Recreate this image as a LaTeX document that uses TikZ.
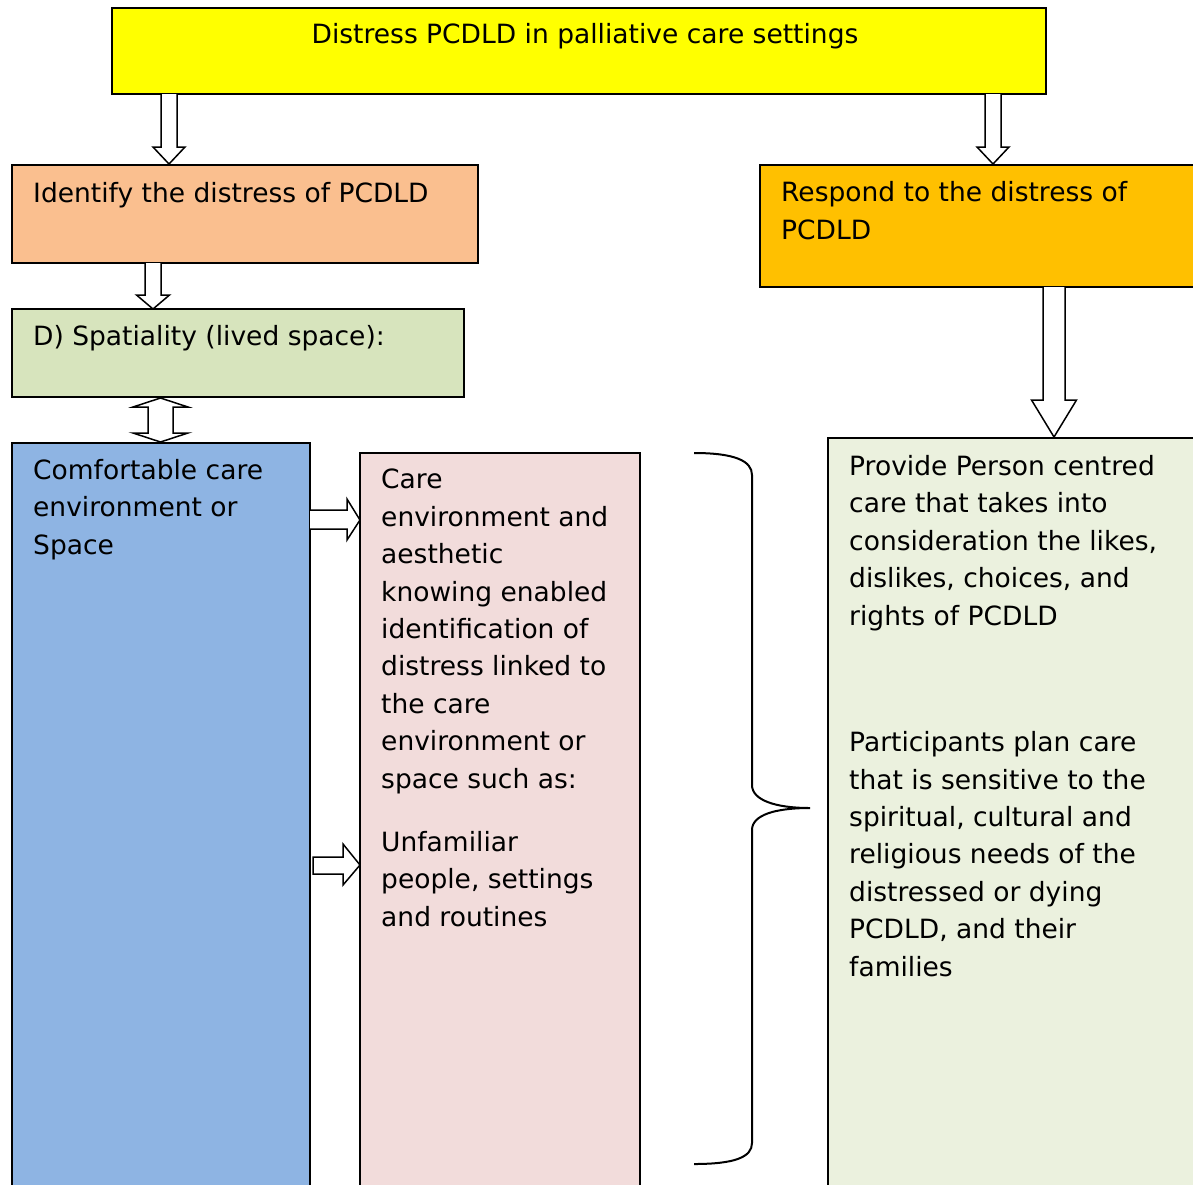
\documentclass[tikz,border=0pt]{standalone}
\usepackage{fontspec}
\setmainfont{DejaVu Sans}
\definecolor{cyellow}{HTML}{FFFF00}
\definecolor{corange}{HTML}{FABF8F}
\definecolor{cgold}{HTML}{FFC000}
\definecolor{colive}{HTML}{D7E4BD}
\definecolor{cblue}{HTML}{8EB4E3}
\definecolor{cpink}{HTML}{F2DCDB}
\definecolor{cpale}{HTML}{EBF1DE}
\tikzset{
  box/.style={draw=black, line width=1.5pt},
  % anchored at the baseline of the last line of each text block
  txt/.style={anchor=base west, align=left, inner sep=0pt,
    font=\fontsize{26.5}{37.4}\selectfont},
  blockarrow/.style={draw=black, line width=1.5pt, fill=white, line join=miter},
}
% hollow block arrow pointing down: x, y start, y tip, half shaft, half head, head length
\newcommand{\blockdown}[6]{%
  \draw[blockarrow] (#1-#4,#2) -- (#1-#4,#3-#6) -- (#1-#5,#3-#6) -- (#1,#3)
    -- (#1+#5,#3-#6) -- (#1+#4,#3-#6) -- (#1+#4,#2);}
\begin{document}
\begin{tikzpicture}[x=1pt, y=-1pt]
  \useasboundingbox (0,0) rectangle (1193,1184);
  \clip (0,0) rectangle (1193,1184);

  % boxes
  \draw[box, fill=cyellow] (112,8) rectangle (1046,94);
  \draw[box, fill=corange] (12,165) rectangle (478,263);
  \draw[box, fill=cgold] (760,165) rectangle (1205,287);
  \draw[box, fill=colive] (12,309) rectangle (464,397);
  \draw[box, fill=cblue] (12,443) rectangle (310,1205);
  \draw[box, fill=cpink] (360,453) rectangle (640,1205);
  \draw[box, fill=cpale] (828,438) rectangle (1205,1205);

  % texts
  \node[txt, anchor=base] (ttop) at (585,43) {Distress PCDLD in palliative care settings};
  \node[txt] (tident) at (33,202) {Identify the distress of PCDLD};
  \node[txt] (tresp) at (781,239) {Respond to the distress of\\PCDLD};
  \node[txt] (tspat) at (33,345) {D) Spatiality (lived space):};
  \node[txt] (tblue) at (33,554) {Comfortable care\\environment or\\Space};
  \node[txt] (tpink) at (381,788) {Care\\environment and\\aesthetic\\knowing enabled\\identification of\\distress linked to\\the care\\environment or\\space such as:};
  \node[txt] (tpink2) at (381,926) {Unfamiliar\\people, settings\\and routines};
  \node[txt] (tgreen) at (849,625) {Provide Person centred\\care that takes into\\consideration the likes,\\dislikes, choices, and\\rights of PCDLD};
  \node[txt] (tgreen2) at (849,976) {Participants plan care\\that is sensitive to the\\spiritual, cultural and\\religious needs of the\\distressed or dying\\PCDLD, and their\\families};

  % block arrows
  \blockdown{169}{94}{164}{8}{16}{17}
  \blockdown{993}{94}{164}{8}{16}{17}
  \blockdown{153}{263}{309}{8}{16.5}{14}
  \blockdown{1054}{287}{437}{11}{22.5}{37}
  \draw[blockarrow] (160.5,398) -- (188,407) -- (173,407) -- (173,433) -- (188,433)
    -- (160.5,442) -- (133,433) -- (148,433) -- (148,407) -- (133,407) -- cycle;
  \draw[blockarrow] (310,510) -- (347,510) -- (347,499) -- (360,520) -- (347,540)
    -- (347,529) -- (310,529);
  \draw[blockarrow] (313,857) -- (343,857) -- (343,844) -- (360,865) -- (343,885)
    -- (343,874) -- (313,874) -- cycle;

  % brace
  \draw[line width=2pt] (694,453) .. controls (735,453) and (752,461) .. (752,475)
    -- (752,785) .. controls (752,800) and (775,808) .. (810,808)
    .. controls (775,808) and (752,815) .. (752,830)
    -- (752,1143) .. controls (752,1157) and (735,1164) .. (694,1164);
\end{tikzpicture}
\end{document}
